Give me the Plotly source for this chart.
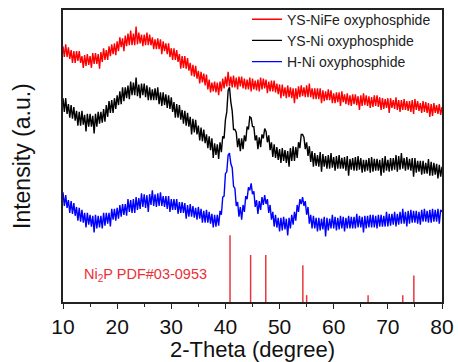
import plotly.graph_objects as go

# Intensities (arbitrary units) sampled every 0.25 degree from 10 to 80
RED = [
    261,250,263,250, 260,248,257,244, 256,244,256,246, 256,244,251,239,
    252,241,253,242, 251,239,254,243, 254,243,253,238, 255,245,259,247,
    257,247,261,251, 263,253,264,252, 266,256,270,260, 269,256,272,261,
    274,262,277,262, 274,262,281,263, 275,264,273,261, 273,262,275,262,
    273,262,270,258, 268,258,269,258, 268,253,266,256, 264,253,264,250,
    259,247,259,247, 257,245,253,238, 251,239,251,238, 249,236,244,231,
    242,230,241,228, 236,223,235,224, 233,221,232,217, 227,214,224,215,
    225,214,224,211, 225,215,228,218, 230,220,235,220, 230,219,231,219,
    229,217,230,220, 230,218,228,217, 227,217,229,215, 228,217,226,216,
    227,215,229,217, 228,218,227,213, 225,215,226,215, 226,214,223,212,
    222,208,222,210, 219,208,221,209, 219,208,218,203, 218,207,220,209,
    221,210,219,209, 221,209,223,209, 218,207,218,207, 218,207,218,203,
    216,205,215,206, 217,206,216,203, 213,203,214,204, 214,200,215,204,
    212,202,213,201, 211,200,212,202, 212,201,210,196, 211,200,213,201,
    211,200,210,198, 209,199,211,200, 211,199,209,196, 208,197,207,198,
    208,193,208,198, 206,197,209,196, 206,194,206,196, 207,196,205,195,
    205,194,206,192, 207,196,205,195, 203,193,205,194, 204,193,203,189,
    202,190,203,193, 201,192,202,191, 199,
]

BLACK = [
    208,194,208,192, 202,188,201,187, 199,185,195,180, 194,180,195,181,
    191,174,192,179, 192,179,190,172, 192,179,194,182, 194,183,197,184,
    201,189,205,193, 206,193,208,197, 211,201,215,202, 219,205,219,208,
    221,207,225,211, 224,211,229,210, 222,208,223,211, 223,209,221,206,
    219,206,217,206, 218,206,219,202, 214,200,214,201, 212,198,211,197,
    209,194,204,188, 202,188,201,186, 196,182,195,180, 193,179,189,171,
    187,173,186,171, 180,165,178,164, 176,162,171,157, 169,155,167,147,
    162,150,161,146, 163,153,169,167, 186,194,216,219, 204,195,176,176,
    173,158,167,154, 167,156,170,164, 179,176,189,188, 179,179,165,170,
    156,168,158,171, 167,177,174,163, 170,155,163,148, 161,147,158,145,
    156,142,157,144, 155,142,154,138, 157,144,159,144, 158,147,163,157,
    171,171,168,156, 163,149,159,143, 154,138,152,139, 150,138,153,133,
    151,138,149,136, 150,136,152,137, 148,134,149,136, 150,136,147,136,
    148,134,149,129, 146,135,147,134, 148,134,149,135, 147,132,145,133,
    145,134,147,132, 148,133,146,134, 146,134,145,129, 147,132,149,134,
    145,133,147,134, 147,135,150,133, 149,135,152,136, 147,134,148,135,
    146,134,147,128, 147,132,144,133, 144,130,144,131, 142,131,146,129,
    143,129,142,130, 141,126,140,128, 138,
]

BLUE = [
    112,98,109,96, 104,91,103,90, 101,88,97,83, 96,82,94,81,
    91,76,91,79, 89,77,88,71, 89,75,88,76, 88,75,91,78,
    91,80,91,77, 95,84,95,83, 96,85,99,87, 100,89,100,88,
    105,92,104,91, 105,91,107,94, 106,95,111,97, 110,96,109,92,
    110,99,114,98, 110,97,111,98, 112,98,108,97, 108,95,108,92,
    105,94,105,94, 105,90,102,91, 102,91,101,85, 99,87,100,87,
    98,86,96,84, 97,85,95,81, 93,81,94,81, 92,80,90,76,
    89,77,89,78, 93,89,107,108, 131,133,150,152, 141,137,118,116,
    98,102,87,97, 84,99,92,108, 105,117,114,121, 110,113,97,104,
    90,103,94,107, 99,109,100,105, 91,99,84,92, 77,89,76,86,
    72,86,73,87, 74,85,68,86, 75,89,79,92, 83,99,92,105,
    100,107,98,103, 89,97,80,89, 75,88,75,86, 72,86,73,85,
    74,87,67,86, 73,85,75,89, 75,87,73,86, 74,88,75,87,
    72,86,75,88, 75,87,75,87, 75,90,76,88, 76,87,71,88,
    75,88,76,89, 76,89,76,88, 75,89,77,89, 77,88,77,92,
    77,90,78,90, 79,92,77,90, 79,92,80,95, 80,92,77,93,
    80,94,81,93, 81,93,80,92, 79,94,82,95, 82,93,81,94,
    81,95,82,94, 82,95,80,94, 92,
]

TWO_THETA = [10 + 0.25 * i for i in range(len(RED))]

# Ni2P reference pattern (PDF#03-0953)
PDF_POS = [40.85, 44.65, 47.45, 54.3, 55.0, 66.35, 72.75, 74.8]
PDF_INT = [68, 48, 48, 37.5, 7, 7, 7, 27]

SERIES_NAMES = ["YS-NiFe oxyphosphide", "YS-Ni oxyphosphide", "H-Ni oxyphosphide"]
X_TICKS = [10, 20, 30, 40, 50, 60, 70, 80]

FONT = "Liberation Sans, Arial, sans-serif"

fig = go.Figure()
for name, ys, col in zip(SERIES_NAMES, [RED, BLACK, BLUE], ["#ff0000", "#000000", "#0000ff"]):
    fig.add_trace(go.Scatter(x=TWO_THETA, y=ys, mode="lines", name=name,
                             line=dict(color=col, width=1.4)))

sx, sy = [], []
for p, h in zip(PDF_POS, PDF_INT):
    sx += [p, p, None]
    sy += [0, h, None]
fig.add_trace(go.Scatter(x=sx, y=sy, mode="lines", showlegend=False,
                         line=dict(color="#e8383d", width=1.5)))

fig.add_annotation(x=25.15, y=28, xref="x", yref="y",
                   text="Ni<sub>2</sub>P PDF#03-0953", showarrow=False,
                   font=dict(family=FONT, size=14.5, color="#ec3035"))

fig.add_annotation(x=-41 / 379, y=0.5, xref="paper", yref="paper",
                   text="Intensity (a.u.)", textangle=-90, showarrow=False,
                   xanchor="center", yanchor="middle",
                   font=dict(family=FONT, size=23, color="#111"))

fig.update_layout(
    width=458, height=362,
    margin=dict(l=63, r=16, t=4, b=60),
    paper_bgcolor="white", plot_bgcolor="white",
    font=dict(family=FONT, color="#111"),
    showlegend=True,
    legend=dict(x=0.4855, y=1.022, xanchor="left", yanchor="top",
                bgcolor="rgba(0,0,0,0)", borderwidth=0,
                font=dict(family=FONT, size=14, color="#222"),
                tracegroupgap=0),
    xaxis=dict(range=[10, 80], tickvals=X_TICKS, ticks="outside", ticklen=5,
               tickwidth=1.2, tickcolor="#222",
               minor=dict(ticks="outside", ticklen=3, dtick=5, tick0=10, tickcolor="#222"),
               showline=True, linecolor="#222", linewidth=1.5, mirror=True,
               showgrid=False, zeroline=False,
               tickfont=dict(family=FONT, size=21, color="#111"),
               title=dict(text="2-Theta (degree)", standoff=0,
                          font=dict(family=FONT, size=22, color="#111"))),
    yaxis=dict(range=[0, 298], showticklabels=False, ticks="",
               showline=True, linecolor="#222", linewidth=1.5, mirror=True,
               showgrid=False, zeroline=False),
)

fig.write_html("out.html")
